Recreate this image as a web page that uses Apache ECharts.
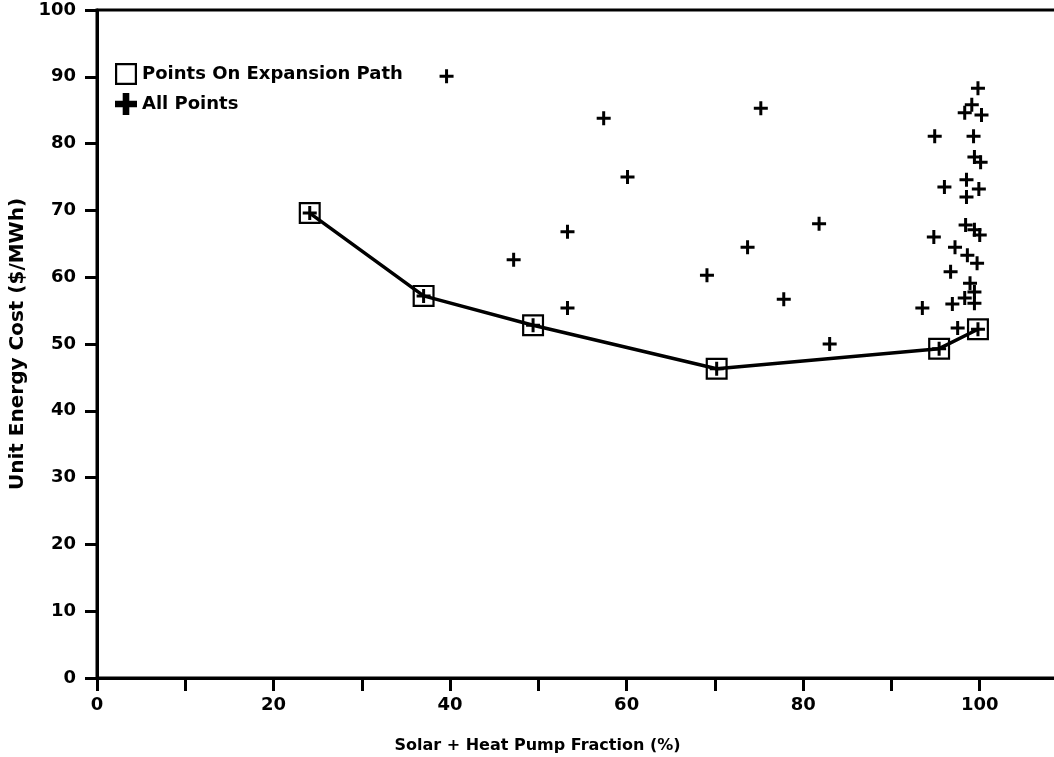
<!DOCTYPE html>
<html>
<head>
<meta charset="utf-8">
<script src="https://cdn.jsdelivr.net/npm/echarts@6/dist/echarts.min.js"></script>
<style>
  html, body { margin: 0; padding: 0; background: #fff; }
  #chart { width: 1054px; height: 757px; }
</style>
</head>
<body>
<div id="chart"></div>
<script>
// Expansion path: solar + heat pump fraction (%) vs unit energy cost ($/MWh)
const pathFraction = [24.1, 37.0, 49.4, 70.2, 95.4, 99.8];
const pathCost     = [69.6, 57.2, 52.8, 46.3, 49.3, 52.2];

// Every evaluated configuration
const allFraction = [
  24.1, 37.0, 49.4, 70.2, 95.4, 99.8,
  39.6, 47.2, 53.3, 53.3, 57.4, 60.1, 69.1, 73.7, 75.2, 77.8, 81.8, 83.0,
  99.8, 99.1, 98.3, 100.2, 94.9, 99.3, 99.4, 100.1, 96.0, 98.5, 99.9, 98.5,
  98.4, 99.4, 100.0, 94.8, 97.2, 98.6, 99.7, 96.7, 98.9, 99.4, 98.3, 99.4,
  93.5, 96.9, 97.5
];
const allCost = [
  69.6, 57.2, 52.8, 46.3, 49.3, 52.2,
  90.1, 62.6, 66.8, 55.4, 83.8, 75.0, 60.3, 64.5, 85.3, 56.7, 68.0, 50.0,
  88.3, 85.8, 84.6, 84.3, 81.1, 81.1, 78.0, 77.2, 73.5, 74.6, 73.2, 72.0,
  67.8, 67.1, 66.3, 66.0, 64.5, 63.3, 62.1, 60.8, 59.1, 57.8, 56.9, 56.1,
  55.4, 56.0, 52.4
];

const xTicks = [0, 20, 40, 60, 80, 100];
const yTicks = [0, 10, 20, 30, 40, 50, 60, 70, 80, 90, 100];

const SQUARE = 'path://M0,0H20V20H0Z M2,2V18H18V2Z';
const PLUS_BOLD = 'path://M7,0H13V7H20V13H13V20H7V13H0V7H7Z';
const PLUS = 'path://M5.5,0H8.5V5.5H14V8.5H8.5V14H5.5V8.5H0V5.5H5.5Z';

const FONT = '"DejaVu Sans", Verdana, sans-serif';

const chart = echarts.init(document.getElementById('chart'), null, { renderer: 'canvas' });

chart.setOption({
  backgroundColor: '#ffffff',
  animation: false,
  textStyle: { fontFamily: FONT, color: '#000' },
  // The frame runs past the right edge of the page
  grid: {
    left: 97, top: 10, bottom: 79, right: -14,
    containLabel: false,
    outerBoundsMode: 'none',
    show: true, borderColor: '#000', borderWidth: 3, backgroundColor: 'transparent'
  },
  legend: {
    orient: 'vertical',
    left: 110, top: 58,
    itemWidth: 22, itemHeight: 22, itemGap: 8,
    textStyle: { fontFamily: FONT, fontWeight: 'bold', fontSize: 18, color: '#000' },
    data: [
      { name: 'Points On Expansion Path', icon: SQUARE, itemStyle: { color: '#000', opacity: 1 } },
      { name: 'All Points', icon: PLUS_BOLD, itemStyle: { color: '#000', opacity: 1 } }
    ]
  },
  xAxis: {
    type: 'value',
    min: 0, max: 110, interval: 10,
    name: 'Solar + Heat Pump Fraction (%)',
    nameLocation: 'middle',
    nameGap: 60,
    nameTextStyle: { fontFamily: FONT, fontWeight: 'bold', fontSize: 16, color: '#000', padding: [0, 90, 0, 0] },
    axisLine: { lineStyle: { color: '#000', width: 3 } },
    axisTick: { inside: false, length: 13, lineStyle: { color: '#000', width: 3 } },
    axisLabel: {
      margin: 18,
      fontFamily: FONT, fontWeight: 'bold', fontSize: 18, color: '#000',
      formatter: v => (xTicks.indexOf(v) >= 0 ? String(v) : '')
    },
    splitLine: { show: false }
  },
  yAxis: {
    type: 'value',
    min: 0, max: 100, interval: 10,
    name: 'Unit Energy Cost ($/MWh)',
    nameLocation: 'middle',
    nameGap: 67,
    nameRotate: 90,
    nameTextStyle: { fontFamily: FONT, fontWeight: 'bold', fontSize: 20, color: '#000' },
    axisLine: { lineStyle: { color: '#000', width: 3 } },
    axisTick: { inside: false, length: 12, lineStyle: { color: '#000', width: 3 } },
    axisLabel: {
      margin: 21,
      fontFamily: FONT, fontWeight: 'bold', fontSize: 18, color: '#000',
      formatter: v => (yTicks.indexOf(v) >= 0 ? String(v) : '')
    },
    splitLine: { show: false }
  },
  series: [
    {
      name: 'Points On Expansion Path',
      type: 'line',
      data: pathFraction.map((x, i) => [x, pathCost[i]]),
      symbol: SQUARE,
      symbolSize: 22,
      lineStyle: { color: '#000', width: 3.5 },
      itemStyle: { color: '#000', opacity: 1 },
      z: 2
    },
    {
      name: 'All Points',
      type: 'scatter',
      data: allFraction.map((x, i) => [x, allCost[i]]),
      symbol: PLUS,
      symbolSize: 14,
      itemStyle: { color: '#000', opacity: 1 },
      z: 3
    }
  ]
});
</script>
</body>
</html>
